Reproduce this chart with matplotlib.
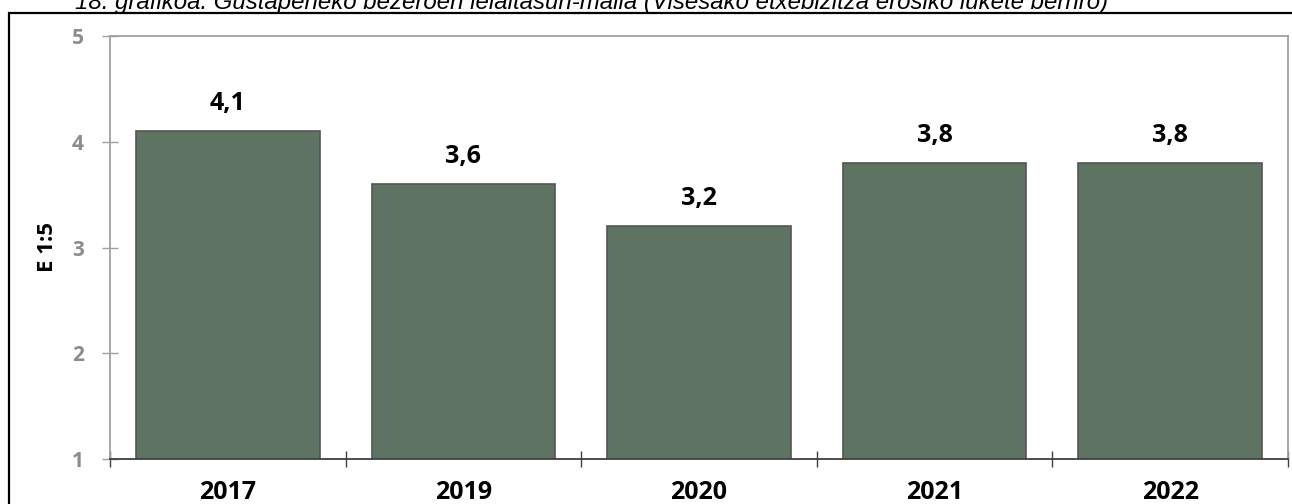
import matplotlib.pyplot as plt
from matplotlib.patches import Rectangle

# data
years = ['2017', '2019', '2020', '2021', '2022']
values = [4.1, 3.6, 3.2, 3.8, 3.8]
y_ticks = [1, 2, 3, 4, 5]
title = '18. grafikoa. Gustapeneko bezeroen leialtasun-maila (Visesako etxebizitza erosiko lukete berriro)'

W, H = 1292, 504
fig = plt.figure(figsize=(W / 100, H / 100), dpi=100)
fig.patch.set_facecolor('white')

# outer black frame (runs off the right and bottom edges)
fig.patches.append(Rectangle((8.5 / W, -0.1), 1.2, 1 - 12.5 / H + 0.1,
                             transform=fig.transFigure, fill=False,
                             edgecolor='black', linewidth=1.6, zorder=0))

# title, cut off at the top of the image
fig.text(592 / W, 1 - 9 / H, title, ha='center', va='baseline',
         fontsize=17.3, style='italic', family='Liberation Sans', color='black')

ax = fig.add_axes([110 / W, 1 - 459 / H, (1288 - 110) / W, (459 - 36) / H])

x = range(len(years))
bars = ax.bar(x, values, width=0.78, bottom=0, color='#5f7363',
              edgecolor='#555555', linewidth=1.2, zorder=2)
ax.set_xlim(-0.5, len(years) - 0.5)
ax.set_ylim(1, 5)

for xi, v in zip(x, values):
    ax.text(xi, v + 0.26, f'{v:.1f}'.replace('.', ','), ha='center', va='center',
            fontsize=18, fontweight='bold', family='Open Sans', color='black')

# spines
for s in ['top', 'right', 'left']:
    ax.spines[s].set_color('#a0a0a0')
    ax.spines[s].set_linewidth(1.3)
ax.spines['bottom'].set_color('#404040')
ax.spines['bottom'].set_linewidth(1.3)

ax.set_yticks(y_ticks)
ax.set_yticklabels([str(t) for t in y_ticks], fontsize=15, fontweight='bold',
                   family='Open Sans', color='#8c8c8c')
ax.tick_params(axis='y', direction='inout', length=12, width=1, color='#a0a0a0', pad=13)

# category labels centred, tick marks at the boundaries
ax.set_xticks([i - 0.5 for i in range(len(years) + 1)])
ax.set_xticklabels([])
ax.tick_params(axis='x', direction='inout', length=12, width=1, color='#404040')
ax.set_xticks(list(x), minor=True)
ax.set_xticklabels(years, minor=True, fontsize=18, fontweight='bold',
                   family='Open Sans', color='black')
ax.tick_params(axis='x', which='minor', length=0, pad=15)

ax.set_ylabel('E 1:5', fontsize=16, fontweight='bold', family='Open Sans',
              color='black', labelpad=10)

fig.savefig('out.png', dpi=100, facecolor='white')
